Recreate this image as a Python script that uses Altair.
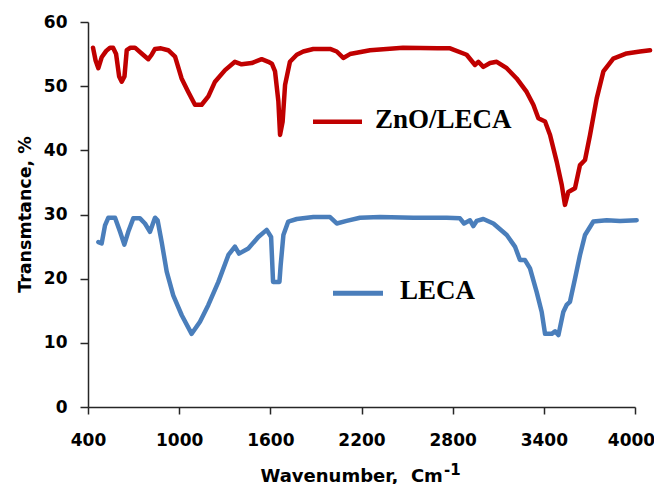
import altair as alt
import pandas as pd

# ZnO/LECA spectrum
zno_wn = [433, 450, 468, 490, 520, 545, 565, 585, 605, 622, 640, 655, 680, 709, 753, 797, 819, 841,
          880, 928, 973, 1016, 1060, 1104, 1148, 1192, 1236, 1302, 1367, 1411, 1477, 1543, 1587,
          1610, 1631, 1653, 1664, 1681, 1697, 1729, 1774, 1817, 1883, 1993, 2037, 2080, 2124,
          2256, 2473, 2700, 2783, 2892, 2947, 2969, 3002, 3046, 3090, 3156, 3221, 3287, 3331,
          3364, 3408, 3441, 3485, 3518, 3539, 3561, 3605, 3638, 3671, 3704, 3748, 3792, 3857,
          3945, 4033, 4099]
zno_t = [56.0, 54.0, 52.8, 54.5, 55.5, 56.0, 56.0, 55.0, 51.5, 50.7, 51.5, 55.6, 56.0, 56.0, 55.1,
         54.2, 54.9, 55.8, 55.9, 55.6, 54.6, 51.2, 49.1, 47.1, 47.1, 48.4, 50.7, 52.5, 53.8, 53.4,
         53.6, 54.2, 53.8, 53.5, 52.3, 47.6, 42.4, 44.5, 50.2, 53.8, 54.9, 55.4, 55.8, 55.8, 55.4,
         54.4, 55.0, 55.6, 56.0, 55.9, 55.9, 54.9, 53.3, 53.8, 53.0, 53.6, 53.8, 52.8, 51.2, 49.1,
         47.1, 45.0, 44.5, 42.4, 38.2, 34.6, 31.5, 33.5, 34.1, 37.7, 38.5, 42.4, 48.1, 52.3, 54.3,
         55.1, 55.4, 55.6]

# LECA spectrum
leca_wn = [468, 490, 512, 534, 578, 611, 639, 665, 698, 742, 775, 808, 841, 858, 885, 918, 961,
           1017, 1082, 1137, 1192, 1258, 1324, 1367, 1394, 1455, 1521, 1576, 1605, 1618, 1660,
           1668, 1686, 1718, 1774, 1883, 1993, 2037, 2102, 2190, 2322, 2541, 2761, 2848, 2875,
           2914, 2936, 2958, 3002, 3068, 3156, 3210, 3243, 3276, 3309, 3353, 3386, 3408, 3452,
           3474, 3496, 3528, 3550, 3572, 3605, 3638, 3671, 3726, 3814, 3901, 4011]
leca_t = [25.7, 25.5, 28.3, 29.5, 29.5, 27.3, 25.3, 27.3, 29.4, 29.4, 28.6, 27.3, 29.5, 29.1, 25.7,
          21.1, 17.4, 14.3, 11.4, 13.3, 15.9, 19.5, 23.7, 25.0, 23.9, 24.7, 26.5, 27.6, 26.5, 19.5,
          19.5, 22.1, 26.8, 28.9, 29.3, 29.6, 29.6, 28.6, 29.0, 29.5, 29.6, 29.5, 29.5, 29.4, 28.6,
          29.1, 28.2, 29.0, 29.3, 28.6, 26.8, 25.0, 22.9, 22.9, 21.6, 17.9, 14.8, 11.4, 11.4, 11.8,
          11.2, 14.8, 15.9, 16.4, 20.0, 23.7, 26.8, 28.9, 29.1, 29.0, 29.1]

series_names = ["ZnO/LECA", "LECA"]
series_colors = ["#C00000", "#4A7EBB"]
x_ticks = [400, 1000, 1600, 2200, 2800, 3400, 4000]
y_ticks = [0, 10, 20, 30, 40, 50, 60]

rows = []
for i, (w, t) in enumerate(zip(zno_wn, zno_t)):
    rows.append({"series": series_names[0], "wn": w, "t": t, "i": i})
for i, (w, t) in enumerate(zip(leca_wn, leca_t)):
    rows.append({"series": series_names[1], "wn": w, "t": t, "i": i})
df = pd.DataFrame(rows)

lines = alt.Chart(df).mark_line(strokeWidth=4.5, strokeJoin="round", strokeCap="round", clip=False).encode(
    x=alt.X("wn:Q",
            scale=alt.Scale(domain=[400, 4000], nice=False, zero=False),
            axis=alt.Axis(values=x_ticks, format="d", title="Wavenumber,\u00a0 Cm", titleAnchor="start",
                          titleX=172, titleY=74, titleBaseline="alphabetic", titleFontSize=18,
                          labelPadding=18, tickSize=7, labelFlush=False,
                          labelOffset={"condition": {"test": "datum.value == 4000", "value": -4}, "value": 0})),
    y=alt.Y("t:Q",
            scale=alt.Scale(domain=[0, 60], nice=False),
            axis=alt.Axis(values=y_ticks, format="d", title="Transmtance, %", titleX=-58, titleY=192,
                          titleAngle=270, titleBaseline="alphabetic", titleAlign="center",
                          titleFontSize=17.5, labelPadding=13, tickSize=8)),
    color=alt.Color("series:N", scale=alt.Scale(domain=series_names, range=series_colors), legend=None),
    order="i:Q",
)

dummy = pd.DataFrame({"a": [0]})

sup = alt.Chart(dummy).mark_text(text="-1", font="DejaVu Sans", fontWeight="bold", fontSize=15,
                                 align="left", baseline="alphabetic", color="#000").encode(
    x=alt.value(356), y=alt.value(453))

leg_red_line = alt.Chart(dummy).mark_rule(color=series_colors[0], strokeWidth=4.5).encode(
    x=alt.value(225), x2=alt.value(274), y=alt.value(99.7))
leg_red_text = alt.Chart(dummy).mark_text(text=series_names[0], font="Liberation Serif", fontWeight="bold",
                                          fontSize=27, align="left", baseline="alphabetic", color="#000").encode(
    x=alt.value(287), y=alt.value(106))
leg_blue_line = alt.Chart(dummy).mark_rule(color=series_colors[1], strokeWidth=5).encode(
    x=alt.value(245), x2=alt.value(295), y=alt.value(271.3))
leg_blue_text = alt.Chart(dummy).mark_text(text=series_names[1], font="Liberation Serif", fontWeight="bold",
                                           fontSize=27, align="left", baseline="alphabetic", color="#000").encode(
    x=alt.value(312), y=alt.value(277.3))

chart = alt.layer(lines, sup, leg_red_line, leg_red_text, leg_blue_line, leg_blue_text).properties(
    width=547, height=385,
    autosize=alt.AutoSizeParams(type="none"),
    padding={"left": 80, "top": 14, "right": 19, "bottom": 77},
    background="white",
).configure_view(stroke=None).configure_axis(
    grid=False,
    domainColor="#262626", domainWidth=1.5,
    tickColor="#262626", tickWidth=1.5,
    labelFont="DejaVu Sans", labelFontWeight="bold", labelFontSize=17, labelColor="#000",
    titleFont="DejaVu Sans", titleFontWeight="bold", titleColor="#000",
)

chart.save("out.html", embed_options={"renderer": "svg", "actions": False})
